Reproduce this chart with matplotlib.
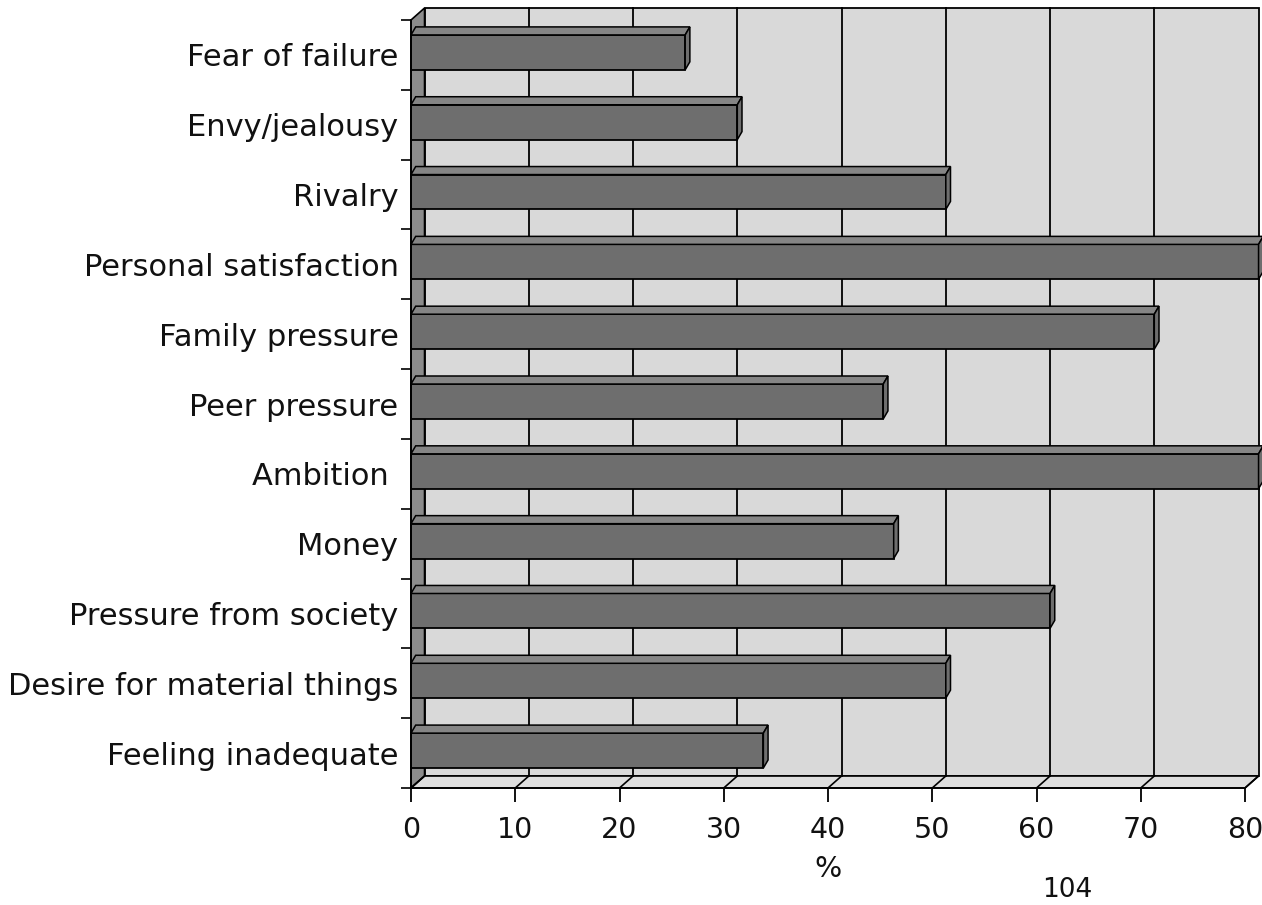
#!/usr/bin/env python3
"""Horizontal pseudo-3D bar chart of reasons, drawn in grey tones."""

import matplotlib
matplotlib.use("Agg")
import matplotlib.pyplot as plt
from matplotlib.patches import Polygon, Rectangle

CATEGORIES = [
    "Fear of failure",
    "Envy/jealousy",
    "Rivalry",
    "Personal satisfaction",
    "Family pressure",
    "Peer pressure",
    "Ambition ",
    "Money",
    "Pressure from society",
    "Desire for material things",
    "Feeling inadequate",
]
PERCENT = [25, 30, 50, 80, 70, 44, 80, 45, 60, 50, 32.5]
X_TICKS = [0, 10, 20, 30, 40, 50, 60, 70, 80]
PAGE_NUMBER = "104"

WALL = "#d9d9d9"
FLOOR = "#dedede"
SIDE = "#8c8c8c"
BAR = "#6e6e6e"
BAR_TOP = "#858585"
LINE = "black"
TEXT = "#111111"

# depth of the box, in data units (x in percent, y in category rows)
DEPTH_X = 1.3
DEPTH_Y = 0.172
# depth of each bar's top face
BAR_DX = 0.45
BAR_DY = 0.115

W, H = 1262, 905

plt.rcParams["font.family"] = ["DejaVu Sans"]

fig = plt.figure(figsize=(W / 100, H / 100), dpi=100)
ax = fig.add_axes([411 / W, 1 - 788 / H, (1245 - 411) / W, (788 - 20) / H])
n = len(CATEGORIES)
xmax = X_TICKS[-1]
ax.set_xlim(0, xmax)
ax.set_ylim(n, 0)
ax.patch.set_visible(False)

# back wall, left side wall and floor
ax.add_patch(Rectangle((DEPTH_X, -DEPTH_Y), xmax, n, facecolor=WALL,
                       edgecolor=LINE, lw=1.3, clip_on=False, zorder=0))
ax.add_patch(Polygon([(0, 0), (0, n), (DEPTH_X, n - DEPTH_Y), (DEPTH_X, -DEPTH_Y)],
                     closed=True, facecolor=SIDE, edgecolor=LINE, lw=1.2,
                     clip_on=False, zorder=1))
ax.add_patch(Polygon([(0, n), (xmax, n), (xmax + DEPTH_X, n - DEPTH_Y), (DEPTH_X, n - DEPTH_Y)],
                     closed=True, facecolor=FLOOR, edgecolor=LINE, lw=1.2,
                     clip_on=False, zorder=1))

# grid on the back wall and its run across the floor
for v in X_TICKS:
    if 0 < v < xmax:
        ax.plot([v + DEPTH_X, v + DEPTH_X], [-DEPTH_Y, n - DEPTH_Y], color=LINE,
                lw=1.3, clip_on=False, zorder=1)
    ax.plot([v, v + DEPTH_X], [n, n - DEPTH_Y], color=LINE, lw=1.2,
            clip_on=False, zorder=2)

# bars: front face plus a thin top face and end face
rows = [i + 0.5 - 0.036 for i in range(n)]
bar_h = 0.5
ax.barh(rows, [p + DEPTH_X for p in PERCENT], height=bar_h, left=0,
        color=BAR, edgecolor=LINE, linewidth=1.3, zorder=3, clip_on=False)
for y, p in zip(rows, PERCENT):
    top = y - bar_h / 2
    bottom = y + bar_h / 2
    end = p + DEPTH_X
    ax.add_patch(Polygon([(0, top), (end, top), (end + BAR_DX, top - BAR_DY), (BAR_DX, top - BAR_DY)],
                         closed=True, facecolor=BAR_TOP, edgecolor=LINE, lw=1.1,
                         clip_on=False, zorder=3))
    ax.add_patch(Polygon([(end, top), (end + BAR_DX, top - BAR_DY),
                          (end + BAR_DX, bottom - BAR_DY), (end, bottom)],
                         closed=True, facecolor=BAR, edgecolor=LINE, lw=1.1,
                         clip_on=False, zorder=3))

# front axes
for side in ("top", "right"):
    ax.spines[side].set_visible(False)
for side in ("left", "bottom"):
    ax.spines[side].set_linewidth(1.3)
    ax.spines[side].set_zorder(4)

ax.set_xticks(X_TICKS)
ax.set_xticklabels([str(v) for v in X_TICKS], fontsize=20.5, color=TEXT)
ax.tick_params(axis="x", direction="out", length=10, width=1.3, pad=10)

ax.set_yticks([i + 0.5 for i in range(n)])
ax.set_yticklabels(CATEGORIES, fontsize=22, color=TEXT)
ax.set_yticks(range(n + 1), minor=True)
ax.tick_params(axis="y", which="major", length=0, pad=9)
ax.tick_params(axis="y", which="minor", direction="out", length=7, width=1.2)

ax.set_xlabel("%", fontsize=20.5, color=TEXT, labelpad=8)

fig.text(1067 / W, 2 / H, PAGE_NUMBER, ha="center", va="bottom",
         fontsize=19, color=TEXT)

fig.savefig("out.png", dpi=100, facecolor="white")
